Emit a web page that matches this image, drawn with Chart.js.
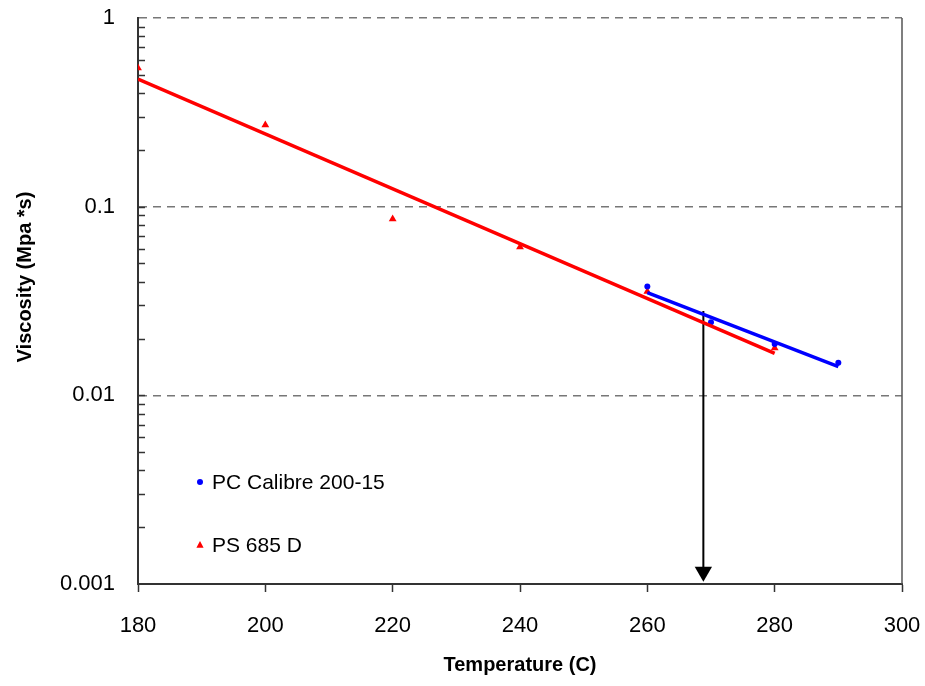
<!DOCTYPE html>
<html><head><meta charset="utf-8">
<script src="https://cdn.jsdelivr.net/npm/chart.js@4/dist/chart.umd.min.js"></script>
<style>html,body{margin:0;padding:0;background:#fff;} canvas{display:block;}</style>
</head><body>
<canvas id="c" width="925" height="686"></canvas>
<script>
const pcTemps = [260, 270, 280, 290];
const pcViscosity = [0.0377, 0.0244, 0.0187, 0.0149];
const psTemps = [180, 200, 220, 240, 260, 280];
const psViscosity = [0.543, 0.271, 0.086, 0.0611, 0.0355, 0.0178];
const pcTrendTemps = [260, 290];
const pcTrendValues = [0.035, 0.01419];
const psTrendTemps = [180, 280];
const psTrendValues = [0.475, 0.0167];
const arrowTemps = [268.8, 268.8];
const arrowValues = [0.028, 0.00116];
const xTicks = [180, 200, 220, 240, 260, 280, 300];
const yTicks = [0.001, 0.01, 0.1, 1];
const yTickLabels = ['0.001', '0.01', '0.1', '1'];
const seriesNames = ['PC Calibre 200-15', 'PS 685 D'];
const xTitle = 'Temperature (C)';
const yTitle = 'Viscosity (Mpa *s)';

const FONT = "'Liberation Sans', Arial, sans-serif";
const pts = (xs, ys) => xs.map((x, i) => ({x: x, y: ys[i]}));

const decor = {
  id: 'decor',
  afterDraw(chart) {
    const ctx = chart.ctx, ca = chart.chartArea;
    const ys = chart.scales.y;
    ctx.save();
    // right border
    ctx.strokeStyle = '#555';
    ctx.lineWidth = 1.5;
    ctx.beginPath();
    ctx.moveTo(ca.right, ca.top);
    ctx.lineTo(ca.right, ca.bottom);
    ctx.stroke();
    // minor ticks inside on the log axis
    ctx.strokeStyle = '#333';
    ctx.lineWidth = 1.5;
    for (let d = 0; d < yTicks.length - 1; d++) {
      for (let m = 1; m <= 9; m++) {
        const v = yTicks[d] * m;
        if (m === 1 && d === 0) continue;
        const py = Math.round(ys.getPixelForValue(v)) + 0.5;
        ctx.beginPath();
        ctx.moveTo(ca.left, py);
        ctx.lineTo(ca.left + 7, py);
        ctx.stroke();
      }
    }
    // axis titles
    ctx.fillStyle = '#000';
    ctx.font = 'bold 20px ' + FONT;
    ctx.textAlign = 'center';
    ctx.textBaseline = 'middle';
    ctx.fillText(xTitle, (ca.left + ca.right) / 2, 665);
    ctx.save();
    ctx.translate(25, 277);
    ctx.rotate(-Math.PI / 2);
    ctx.fillText(yTitle, 0, 0);
    ctx.restore();
    // legend
    ctx.font = '21px ' + FONT;
    ctx.textAlign = 'left';
    const ds = chart.data.datasets;
    const rows = [{d: ds[3], y: 482}, {d: ds[4], y: 545}];
    rows.forEach(r => {
      ctx.fillStyle = r.d.backgroundColor;
      if (r.d.pointStyle === 'triangle') {
        const cx = 200, cy = r.y, s = 4;
        ctx.beginPath();
        ctx.moveTo(cx, cy - s);
        ctx.lineTo(cx + s * 0.9, cy + s * 0.7);
        ctx.lineTo(cx - s * 0.9, cy + s * 0.7);
        ctx.closePath();
        ctx.fill();
      } else {
        ctx.beginPath();
        ctx.arc(200, r.y, 3, 0, Math.PI * 2);
        ctx.fill();
      }
      ctx.fillStyle = '#000';
      ctx.fillText(r.d.label, 212, r.y + 1);
    });
    ctx.restore();
  }
};

new Chart(document.getElementById('c'), {
  type: 'scatter',
  data: {
    datasets: [
      {label: 'PS trend', data: pts(psTrendTemps, psTrendValues), showLine: true, borderColor: '#FF0000', borderWidth: 3.5, pointRadius: 0, tension: 0, order: 0},
      {label: 'PC trend', data: pts(pcTrendTemps, pcTrendValues), showLine: true, borderColor: '#0000FF', borderWidth: 3.5, pointRadius: 0, tension: 0, order: 0},
      {label: 'arrow', data: pts(arrowTemps, arrowValues), showLine: true, borderColor: '#000', borderWidth: 2, backgroundColor: '#000',
        pointRadius: [0, 10], pointStyle: 'triangle', rotation: 180, pointBorderWidth: 0, order: 0},
      {label: seriesNames[0], data: pts(pcTemps, pcViscosity), backgroundColor: '#0000FF', borderColor: '#0000FF', pointStyle: 'circle', pointRadius: 3, borderWidth: 0, order: 1},
      {label: seriesNames[1], data: pts(psTemps, psViscosity), backgroundColor: '#FF0000', borderColor: '#FF0000', pointStyle: 'triangle', pointRadius: 4.5, borderWidth: 0, order: 1}
    ]
  },
  options: {
    responsive: false,
    animation: false,
    layout: {padding: {left: 0, right: 23, top: 18, bottom: 0}},
    plugins: {legend: {display: false}, tooltip: {enabled: false}},
    scales: {
      x: {
        type: 'linear', min: 180, max: 300,
        afterFit(s) { s.height = 102; s.paddingLeft = 0; s.paddingRight = 0; s.paddingTop = 0; s.paddingBottom = 0; },
        afterBuildTicks(s) { s.ticks = xTicks.map(v => ({value: v})); },
        grid: {drawOnChartArea: false, drawTicks: true, tickLength: 8, tickColor: '#333', tickWidth: 1.5},
        border: {color: '#333', width: 2},
        ticks: {color: '#000', font: {family: FONT, size: 22}, padding: 21, maxRotation: 0}
      },
      y: {
        type: 'logarithmic', min: 0.001, max: 1,
        afterFit(s) { s.width = 138; s.paddingLeft = 0; s.paddingRight = 0; s.paddingTop = 0; s.paddingBottom = 0; },
        afterBuildTicks(s) { s.ticks = yTicks.map(v => ({value: v, major: true})); },
        grid: {drawTicks: false, color: ctx => (ctx.tick && ctx.tick.value === 0.001) ? 'rgba(0,0,0,0)' : '#777', lineWidth: 1.5},
        border: {color: '#333', width: 2, dash: [8, 6]},
        ticks: {color: '#000', font: {family: FONT, size: 22}, padding: 23,
          callback: (v) => { const i = yTicks.indexOf(v); return i >= 0 ? yTickLabels[i] : ''; }}
      }
    }
  },
  plugins: [decor]
});
</script>
</body></html>
